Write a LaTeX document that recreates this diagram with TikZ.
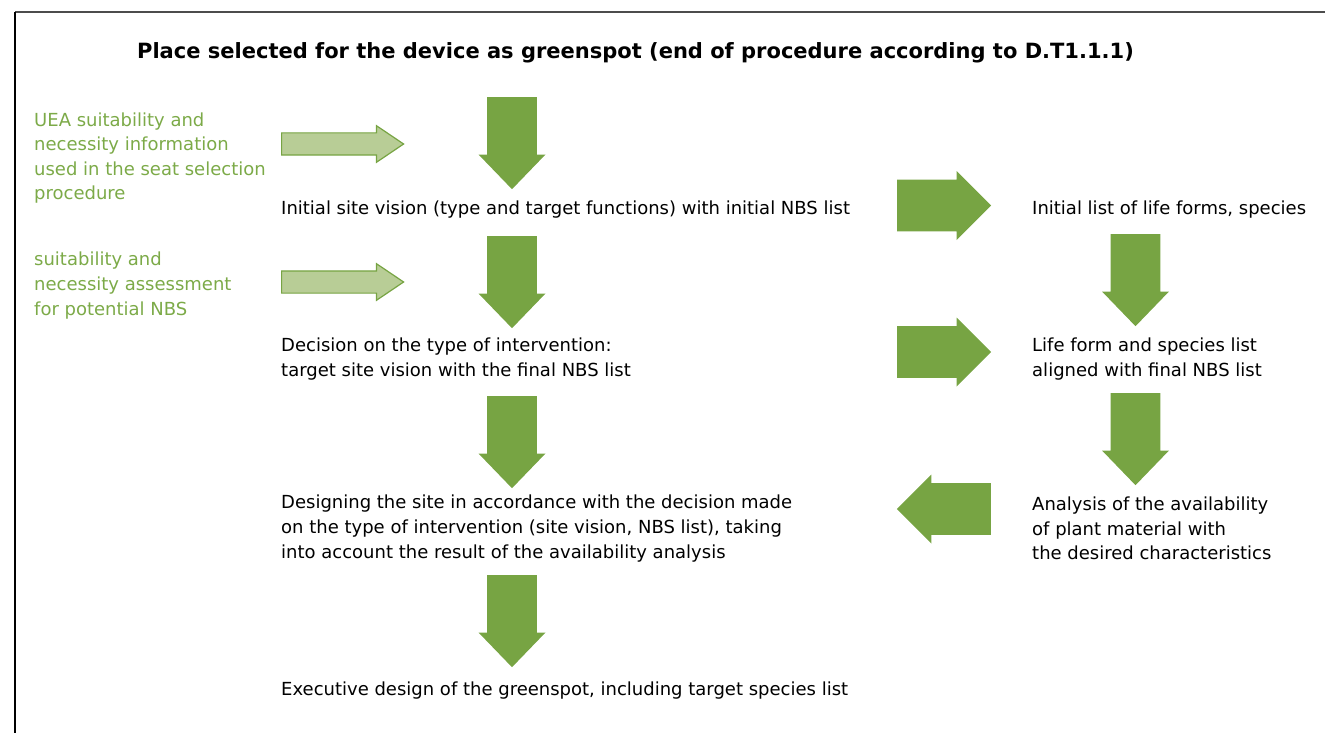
\documentclass[tikz,border=0pt]{standalone}
\usepackage{fontspec}
\setmainfont{DejaVu Sans}
\usetikzlibrary{shapes.arrows}
\definecolor{leafgreen}{RGB}{119,164,67}
\definecolor{palegreen}{RGB}{184,205,150}
\definecolor{notegreen}{RGB}{124,170,72}
\begin{document}
\begin{tikzpicture}[x=1pt, y=-1pt,
        txt/.style={anchor=west, align=left, inner sep=0pt,
            font=\fontsize{18}{24.6}\selectfont},
        note/.style={txt, text=notegreen},
        bigdown/.style={single arrow, fill=leafgreen, rotate=-90, anchor=tail,
            minimum height=92pt, minimum width=67pt, inner xsep=0pt,
            inner ysep=20pt, single arrow tip angle=88},
        bigside/.style={single arrow, fill=leafgreen, anchor=tail,
            minimum height=94pt, minimum width=69pt, inner xsep=0pt,
            inner ysep=21pt, single arrow tip angle=90},
        feed/.style={single arrow, fill=palegreen, draw=leafgreen, anchor=tail,
            line width=1.2pt, minimum height=122pt, minimum width=33pt,
            inner xsep=0pt, inner ysep=10.5pt, single arrow tip angle=68}]
    \useasboundingbox (0, 0) rectangle (1325, 733);
    \draw [line width=1.5pt, black!70] (15, 12) -- (1325, 12);
    \draw [line width=1.2pt] (15, 12) -- (15, 733);
    \node [font=\bfseries\fontsize{21}{26}\selectfont] (title) at (635.5, 53)
        {Place selected for the device as greenspot (end of procedure according to D.T1.1.1)};
    % left column
    \node [note] (ueaInfo) at (34, 158) {UEA suitability and\\necessity information\\used in the seat selection\\procedure};
    \node [note] (assessment) at (34, 285.5) {suitability and\\necessity assessment\\for potential NBS};
    \node [feed] (feedA) at (281, 144) {};
    \node [feed] (feedB) at (281, 282) {};
    % main column
    \node [bigdown] (downA) at (512, 97) {};
    \node [txt] (vision) at (281, 210)
        {Initial site vision (type and target functions) with initial NBS list};
    \node [bigdown] (downB) at (512, 236) {};
    \node [txt] (decision) at (281, 359)
        {Decision on the type of intervention:\\target site vision with the final NBS list};
    \node [bigdown] (downC) at (512, 396) {};
    \node [txt] (design) at (281, 528.5)
        {Designing the site in accordance with the decision made\\on the type of intervention (site vision, NBS list), taking\\into account the result of the availability analysis};
    \node [bigdown] (downD) at (512, 575) {};
    \node [txt] (executive) at (281, 691)
        {Executive design of the greenspot, including target species list};
    % species column
    \node [bigside] (toLifeForms) at (897, 205.5) {};
    \node [txt] (lifeForms) at (1032, 210) {Initial list of life forms, species};
    \node [bigdown] (downE) at (1135.5, 234) {};
    \node [bigside] (toSpecies) at (897, 352) {};
    \node [txt] (speciesList) at (1032, 359)
        {Life form and species list\\aligned with final NBS list};
    \node [bigdown] (downF) at (1135.5, 393) {};
    \node [txt] (analysis) at (1032, 528.5)
        {Analysis of the availability\\of plant material with\\the desired characteristics};
    \node [bigside, rotate=180] (backToDesign) at (991, 509) {};
\end{tikzpicture}
\end{document}
